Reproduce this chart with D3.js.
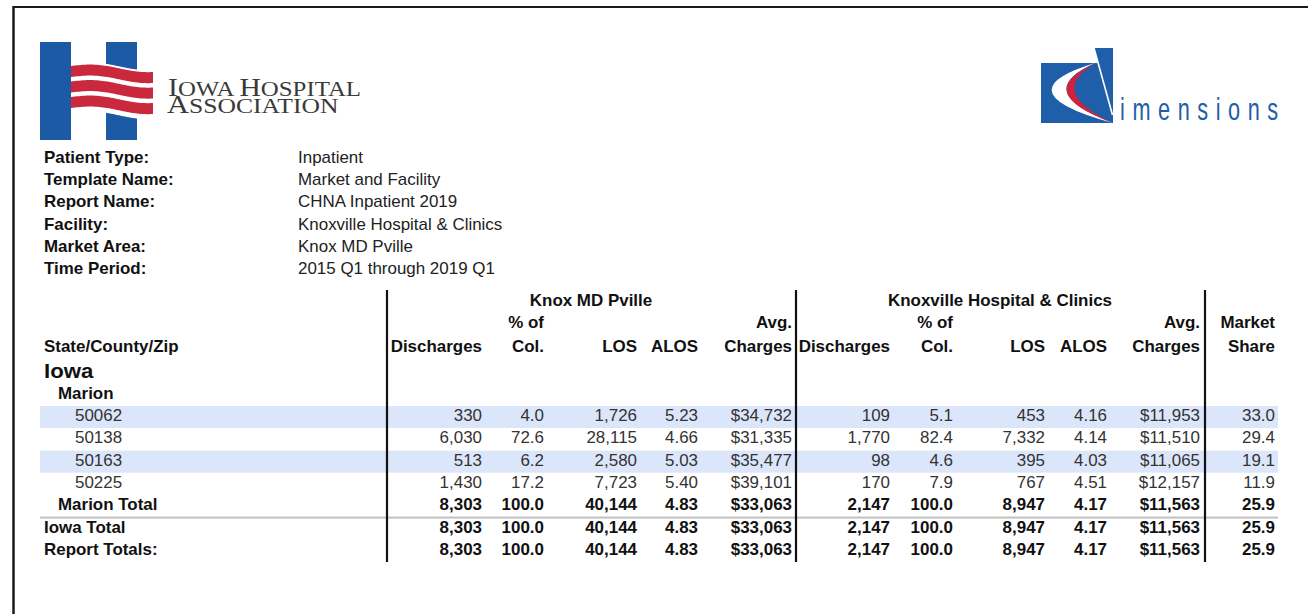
<!DOCTYPE html>
<html><head><meta charset="utf-8">
<script src="https://cdn.jsdelivr.net/npm/d3@7"></script>
<style>html,body{margin:0;padding:0;background:#fff;} svg{display:block}</style>
</head><body><svg id="c" width="1308" height="614"></svg>
<script>
// ---------- DATA ----------
const metaLabels = ["Patient Type:", "Template Name:", "Report Name:", "Facility:", "Market Area:", "Time Period:"];
const metaValues = ["Inpatient", "Market and Facility", "CHNA Inpatient 2019", "Knoxville Hospital & Clinics", "Knox MD Pville", "2015 Q1 through 2019 Q1"];
const groupTitles = ["Knox MD Pville", "Knoxville Hospital & Clinics"];
const headerTop = ["", "% of", "", "", "Avg.", "", "% of", "", "", "Avg.", "Market"];
const headerBottom = ["Discharges", "Col.", "LOS", "ALOS", "Charges", "Discharges", "Col.", "LOS", "ALOS", "Charges", "Share"];
const stateName = "Iowa";
const countyName = "Marion";
const zips = ["50062", "50138", "50163", "50225"];
const knoxDischarges = [330, 6030, 513, 1430];
const knoxPct = [4.0, 72.6, 6.2, 17.2];
const knoxLOS = [1726, 28115, 2580, 7723];
const knoxALOS = [5.23, 4.66, 5.03, 5.40];
const knoxCharges = [34732, 31335, 35477, 39101];
const hospDischarges = [109, 1770, 98, 170];
const hospPct = [5.1, 82.4, 4.6, 7.9];
const hospLOS = [453, 7332, 395, 767];
const hospALOS = [4.16, 4.14, 4.03, 4.51];
const hospCharges = [11953, 11510, 11065, 12157];
const marketShare = [33.0, 29.4, 19.1, 11.9];
const totalLabels = ["Marion Total", "Iowa Total", "Report Totals:"];
const totalLevels = ["county", "state", "report"];
const totalsKnox = [8303, 100.0, 40144, 4.83, 33063];
const totalsHosp = [2147, 100.0, 8947, 4.17, 11563];
const totalShare = 25.9;

// ---------- SETUP ----------
const SX = 1.06;
const FONT = "'Liberation Sans', Arial, Helvetica, sans-serif";
const svg = d3.select("#c");
svg.append("rect").attr("width", 1308).attr("height", 614).attr("fill", "#fff");

function txt(g, x, y, s, o = {}) {
  return g.append("text")
    .attr("transform", `translate(${x},${y}) scale(${o.sx || SX},1)`)
    .attr("text-anchor", o.anchor || "start")
    .attr("font-family", o.family || FONT)
    .attr("font-size", o.size || 16)
    .attr("font-weight", o.bold ? "bold" : "normal")
    .attr("fill", o.fill || (o.bold ? "#111" : "#333"))
    .text(s);
}

// page frame
svg.append("line").attr("x1", 13).attr("x2", 1308).attr("y1", 7).attr("y2", 7).attr("stroke", "#1a1a1a").attr("stroke-width", 2);
svg.append("line").attr("x1", 13.5).attr("x2", 13.5).attr("y1", 6).attr("y2", 614).attr("stroke", "#1a1a1a").attr("stroke-width", 2.5);

// ---------- IHA LOGO ----------
const iha = svg.append("g");
const ihaBlue = "#1c5aa6", ihaRed = "#c9283d";
iha.append("rect").attr("x", 40).attr("y", 42).attr("width", 31).attr("height", 98).attr("fill", ihaBlue);
iha.append("rect").attr("x", 106).attr("y", 42).attr("width", 31).attr("height", 98).attr("fill", ihaBlue);
function wave(x) { const t = (x - 71) / 82; return -2.5 * Math.sin(t * Math.PI * 1.7) + 4 * t; }
const wx = d3.range(71, 154, 2);
const band = (top, h) => {
  const up = wx.map(x => [x, top + wave(x)]);
  const dn = wx.slice().reverse().map(x => [x, top + h + wave(x)]);
  return d3.line()(up.concat(dn)) + "Z";
};
iha.append("path").attr("d", band(64, 49)).attr("fill", "#fff");
[0, 1, 2].forEach(i => iha.append("path").attr("d", band(66 + 15.5 * i, 11)).attr("fill", ihaRed));
const serif = "'Liberation Serif','DejaVu Serif',serif";
const ihaT1 = iha.append("text").attr("transform", "translate(168,96) scale(1.185,1)").attr("font-family", serif).attr("fill", "#3a3a3a");
[["I", 25], ["OWA ", 21], ["H", 25], ["OSPITAL", 21]].forEach(([s, z]) => ihaT1.append("tspan").attr("font-size", z).text(s));
const ihaT2 = iha.append("text").attr("transform", "translate(167,112.5) scale(1.22,1)").attr("font-family", serif).attr("fill", "#3a3a3a");
[["A", 25], ["SSOCIATION", 21]].forEach(([s, z]) => ihaT2.append("tspan").attr("font-size", z).text(s));

// ---------- DIMENSIONS LOGO ----------
const dim = svg.append("g");
const dBlue = "#1f5ea8", dRed = "#d0233b";
dim.append("path").attr("d", "M1041,63 L1098,63 L1094,48 L1113,48 L1113,123 L1041,123 Z").attr("fill", dBlue);
dim.append("line").attr("x1", 1094).attr("y1", 48).attr("x2", 1112.5).attr("y2", 115).attr("stroke", "#fff").attr("stroke-width", 1.6);
dim.append("path").attr("d", "M1095,63 Q1000,92 1113,123 Q1030,92 1095,63 Z").attr("fill", "#fff");
dim.append("path").attr("d", "M1095,64 Q1030,92 1113,123 Q1046,92 1095,64 Z").attr("fill", dRed);
dim.append("text").attr("transform", "translate(1120,120) scale(0.7,1)").attr("font-family", FONT).attr("font-size", 31)
  .attr("fill", dBlue).attr("textLength", 226).attr("lengthAdjust", "spacing").text("imensions");

// ---------- META ----------
const metaY = d3.scaleLinear().domain([0, metaLabels.length - 1]).range([163, 274]);
const meta = svg.append("g");
metaLabels.forEach((l, i) => txt(meta, 44, metaY(i), l, { bold: true }));
metaValues.forEach((v, i) => txt(meta, 298, metaY(i), v, { fill: "#222" }));

// ---------- TABLE ----------
const colKeys = d3.range(headerBottom.length);
const colRight = d3.scaleOrdinal().domain(colKeys).range([482, 544, 637, 698, 792, 890, 953, 1045, 1107, 1200, 1275]);
const groupCenter = d3.scaleOrdinal().domain([0, 1]).range([591, 1000]);
const fmts = [d3.format(","), d3.format(".1f"), d3.format(","), d3.format(".2f"), d3.format("$,"),
              d3.format(","), d3.format(".1f"), d3.format(","), d3.format(".2f"), d3.format("$,"), d3.format(".1f")];

const rows = zips.map((z, i) => ({
  label: z, level: "zip", bold: false, shade: i % 2 === 0,
  vals: [knoxDischarges[i], knoxPct[i], knoxLOS[i], knoxALOS[i], knoxCharges[i],
         hospDischarges[i], hospPct[i], hospLOS[i], hospALOS[i], hospCharges[i], marketShare[i]]
})).concat(totalLabels.map((l, i) => ({
  label: l, level: totalLevels[i], bold: true, shade: false,
  vals: totalsKnox.concat(totalsHosp).concat([totalShare])
})));

const rowY = d3.scaleLinear().domain([0, rows.length - 1]).range([421, 555]);
const levelX = d3.scaleOrdinal().domain(["zip", "county", "state", "report"]).range([75, 58, 44, 44]);

const tbl = svg.append("g");
// shaded bands
tbl.selectAll("rect.band").data(rows.map((r, i) => ({ r, i })).filter(d => d.r.shade)).join("rect")
  .attr("class", "band").attr("x", 40).attr("width", 1238)
  .attr("y", d => rowY(d.i) - 15).attr("height", 22).attr("fill", "#dce6fa");
// separator below county total
const sepIdx = rows.findIndex(r => r.level === "county");
tbl.append("rect").attr("x", 40).attr("width", 1238).attr("y", (rowY(sepIdx) + rowY(sepIdx + 1)) / 2 - 5).attr("height", 2.2).attr("fill", "#c6c6c6");

// headers
groupTitles.forEach((t, i) => txt(tbl, groupCenter(i), 306, t, { bold: true, anchor: "middle" }));
colKeys.forEach(k => {
  if (headerTop[k]) txt(tbl, colRight(k), 328, headerTop[k], { bold: true, anchor: "end" });
  txt(tbl, colRight(k), 352, headerBottom[k], { bold: true, anchor: "end" });
});
txt(tbl, 44, 352, "State/County/Zip", { bold: true });
txt(tbl, 44, 378, stateName, { bold: true, size: 21 });
txt(tbl, 58, 399, countyName, { bold: true });

// rows
rows.forEach((r, i) => {
  const y = rowY(i);
  txt(tbl, levelX(r.level), y, r.label, { bold: r.bold, fill: r.bold ? "#111" : "#333" });
  r.vals.forEach((v, k) => txt(tbl, colRight(k), y, fmts[k](v), { bold: r.bold, anchor: "end", fill: r.bold ? "#111" : "#333" }));
});

// vertical dividers
[387, 796, 1205].forEach(x => tbl.append("line").attr("x1", x).attr("x2", x).attr("y1", 290).attr("y2", 562)
  .attr("stroke", "#111").attr("stroke-width", 2.2));
</script></body></html>
